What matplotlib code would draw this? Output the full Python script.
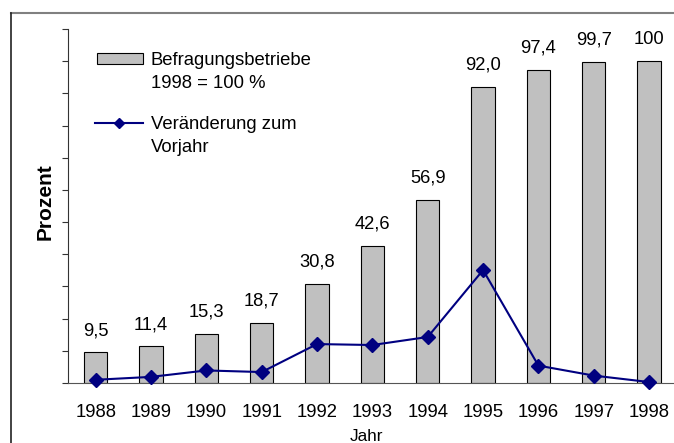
import numpy as np
import matplotlib
matplotlib.use("Agg")
from matplotlib import pyplot as plt
from matplotlib.lines import Line2D
from matplotlib.patches import Rectangle

plt.rcParams['font.family'] = ['Liberation Sans', 'DejaVu Sans']

# Daten
jahre = ['1988', '1989', '1990', '1991', '1992', '1993', '1994', '1995', '1996', '1997', '1998']
befragungsbetriebe = [9.5, 11.4, 15.3, 18.7, 30.8, 42.6, 56.9, 92.0, 97.4, 99.7, 100]
werte_text = ['9,5', '11,4', '15,3', '18,7', '30,8', '42,6', '56,9', '92,0', '97,4', '99,7', '100']
veraenderung = [1.0, 1.9, 3.9, 3.4, 12.1, 11.8, 14.3, 35.1, 5.4, 2.3, 0.3]

W, H = 674, 443
fig = plt.figure(figsize=(W / 100, H / 100), dpi=100)

def fx(px):
    return px / W

def fy(py):
    return 1 - py / H

ax = fig.add_axes([fx(68), fy(383), fx(674) - fx(68), fy(29) - fy(383)])

x = np.arange(len(jahre))
bars = ax.bar(x, befragungsbetriebe, width=0.42, color='#c0c0c0',
              edgecolor='black', linewidth=0.8, zorder=2)
ax.bar_label(bars, labels=werte_text, padding=9.5, fontsize=13.2)

ax.plot(x, veraenderung, color='#000080', linewidth=1.5, marker='D',
        markersize=7.5, zorder=3, clip_on=False)

ax.set_xlim(-0.5, 10.45)
ax.set_ylim(0, 110)
ax.set_yticks(np.arange(0, 111, 10))
ax.set_yticklabels([])
ax.set_xticks(x)
ax.set_xticklabels(jahre, fontsize=13.3)
ax.tick_params(axis='x', length=0, pad=15)
ax.tick_params(axis='y', direction='out', length=4.5, width=0.8, color='#333333')

for s in ['top', 'right']:
    ax.spines[s].set_visible(False)
ax.spines['left'].set_color('#333333')
ax.spines['bottom'].set_color('#555555')
ax.spines['left'].set_linewidth(0.8)
ax.spines['bottom'].set_linewidth(0.8)

# Achsentitel
fig.text(fx(45), fy(202), 'Prozent', rotation=90, ha='center', va='center',
         fontsize=15, fontweight='bold')
fig.text(fx(366), fy(441), 'Jahr', ha='center', va='baseline', fontsize=12.3)

# Legende (manuell)
fig.add_artist(Rectangle((fx(97), fy(64)), fx(143) - fx(97), fy(53) - fy(64),
                         transform=fig.transFigure, facecolor='#c0c0c0',
                         edgecolor='black', linewidth=0.8))
fig.text(fx(151), fy(65), 'Befragungsbetriebe', fontsize=13.3, va='baseline')
fig.text(fx(151), fy(88), '1998 = 100 %', fontsize=13.3, va='baseline')
fig.add_artist(Line2D([fx(95), fx(143)], [fy(123), fy(123)], transform=fig.transFigure,
                      color='#000080', linewidth=1.5))
fig.add_artist(Line2D([fx(119)], [fy(123)], transform=fig.transFigure, color='#000080',
                      marker='D', markersize=5))
fig.text(fx(151), fy(129), 'Veränderung zum', fontsize=13.3, va='baseline')
fig.text(fx(151), fy(152), 'Vorjahr', fontsize=13.3, va='baseline')

# Rahmen
fig.add_artist(Line2D([fx(11), fx(674)], [fy(13), fy(13)], transform=fig.transFigure,
                      color='#808080', linewidth=1.5))
fig.add_artist(Line2D([fx(11), fx(11)], [fy(13), fy(443)], transform=fig.transFigure,
                      color='#222222', linewidth=1.2))

fig.savefig('out.png', dpi=100)
